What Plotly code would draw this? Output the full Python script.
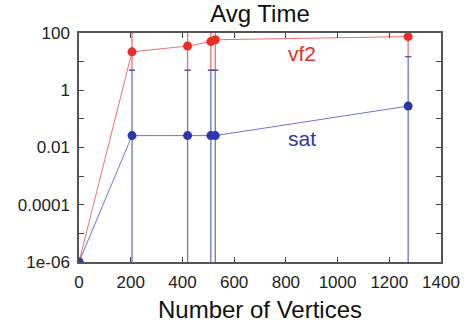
import plotly.graph_objects as go

vertices = [0, 205, 420, 510, 527, 1273]
vf2_time = [1e-6, 22, 35, 50, 58, 75]
vf2_low = [1e-6, 5, 5, 5, 5, 15]
vf2_high = [1e-6, 1000, 1000, 1000, 1000, 1000]
sat_time = [1e-6, 0.026, 0.026, 0.026, 0.026, 0.28]
sat_low = [1e-6, 1e-8, 1e-8, 1e-8, 1e-8, 1e-8]
sat_high = [1e-6, 5, 5, 5, 5, 15]

y_tickvals = [1e-6, 1e-5, 1e-4, 1e-3, 1e-2, 1e-1, 1, 10, 100]
y_ticktext = ["1e-06", "", "0.0001", "", "0.01", "", "1", "", "100"]
x_tickvals = [0, 200, 400, 600, 800, 1000, 1200, 1400]

red = "rgb(235,45,40)"
blue = "rgb(45,55,170)"
red_line = "rgba(240,60,60,0.75)"
blue_line = "rgba(60,70,185,0.75)"

def errs(vals, lo, hi):
    plus = [h - v for v, h in zip(vals, hi)]
    minus = [v - l for v, l in zip(vals, lo)]
    return plus, minus

vp, vm = errs(vf2_time, vf2_low, vf2_high)
sp, sm = errs(sat_time, sat_low, sat_high)

fig = go.Figure()
fig.add_trace(go.Scatter(
    x=vertices, y=vf2_time, mode="lines+markers",
    line=dict(color=red_line, width=1), marker=dict(color=red, size=9),
    error_y=dict(type="data", symmetric=False, array=vp, arrayminus=vm,
                 color=red_line, thickness=1.3, width=3),
    showlegend=False))
fig.add_trace(go.Scatter(
    x=vertices, y=sat_time, mode="lines+markers",
    line=dict(color=blue_line, width=1), marker=dict(color=blue, size=9),
    error_y=dict(type="data", symmetric=False, array=sp, arrayminus=sm,
                 color=blue_line, thickness=1.3, width=3),
    showlegend=False))

fig.add_annotation(x=862, y=1.27, xref="x", yref="y", text="vf2", showarrow=False,
                   font=dict(color=red, size=21, family="Liberation Sans"))
fig.add_annotation(x=862, y=-1.70, xref="x", yref="y", text="sat", showarrow=False,
                   font=dict(color=blue, size=21, family="Liberation Sans"))

fig.update_layout(
    width=468, height=328,
    margin=dict(l=79, r=27, t=33, b=66),
    paper_bgcolor="white", plot_bgcolor="white",
    font=dict(family="Liberation Sans", color="#222", size=17),
    title=dict(text="Avg Time", x=0.5, xanchor="center", y=0.958, yanchor="middle",
               xref="paper", font=dict(size=24, color="#111")),
)
fig.update_xaxes(
    range=[0, 1400], tickvals=x_tickvals, ticks="inside", ticklen=5,
    showline=True, linecolor="#555", linewidth=1.5, mirror="ticks",
    showgrid=False, zeroline=False, automargin=False, ticklabelstandoff=4,
    title=dict(text="Number of Vertices", font=dict(size=24, color="#111"), standoff=10),
)
fig.update_yaxes(
    type="log", range=[-6, 2], tickvals=y_tickvals, ticktext=y_ticktext,
    ticks="inside", ticklen=5, showline=True, linecolor="#555", linewidth=1.5,
    mirror="ticks", showgrid=False, zeroline=False, automargin=False,
    ticklabelstandoff=4,
)

fig.write_html("out.html", config={"displayModeBar": False},
               post_script="document.body.style.margin='0';document.body.style.overflow='hidden';")
